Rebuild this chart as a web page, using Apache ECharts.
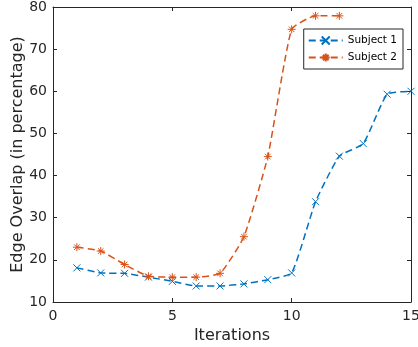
<!DOCTYPE html>
<html>
<head>
<meta charset="utf-8">
<script src="https://cdn.jsdelivr.net/npm/echarts@6/dist/echarts.min.js"></script>
<style>
  html, body { margin: 0; padding: 0; background: #fff; }
  #chart { width: 418px; height: 347px; }
</style>
</head>
<body>
<div id="chart"></div>
<script>
const iterations1 = [1, 2, 3, 4, 5, 6, 7, 8, 9, 10, 11, 12, 13, 14, 15]
const subject1 = [18.1, 16.9, 16.8, 15.9, 14.9, 13.8, 13.8, 14.3, 15.3, 16.9, 33.8, 44.6, 47.6, 59.3, 60]
const iterations2 = [1, 2, 3, 4, 5, 6, 7, 8, 9, 10, 11, 12]
const subject2 = [23, 22.1, 18.9, 16.1, 15.9, 15.9, 16.8, 25.5, 44.5, 74.7, 77.9, 77.9]
const xTicks = [0, 5, 10, 15]
const yTicks = [10, 20, 30, 40, 50, 60, 70, 80]

const BLUE = '#0072BD'
const ORANGE = '#D95319'
const AXIS = '#262626'
const FONT = 'DejaVu Sans'

// MATLAB-style 'x' and '*' markers
const crossSymbol = 'path://M0,0L10,10M10,0L0,10'
const starSymbol = 'path://M5,0L5,10M0,5L10,5M1.5,1.5L8.5,8.5M8.5,1.5L1.5,8.5'

const chart = echarts.init(document.getElementById('chart'))

const baseX = {
  type: 'value',
  min: xTicks[0],
  max: xTicks[xTicks.length - 1],
  interval: 5,
  axisLine: { show: true, onZero: false, lineStyle: { color: AXIS, width: 1 } },
  axisTick: { show: true, inside: true, length: 4, lineStyle: { color: AXIS } },
  splitLine: { show: false }
}
const baseY = {
  type: 'value',
  min: yTicks[0],
  max: yTicks[yTicks.length - 1],
  interval: 10,
  axisLine: { show: true, onZero: false, lineStyle: { color: AXIS, width: 1 } },
  axisTick: { show: true, inside: true, length: 4, lineStyle: { color: AXIS } },
  splitLine: { show: false }
}

chart.setOption({
  animation: false,
  grid: { left: 53, right: 7, top: 7, bottom: 45, outerBoundsMode: 'none', containLabel: false },
  legend: {
    right: 15,
    top: 29,
    orient: 'vertical',
    itemWidth: 34,
    itemHeight: 10,
    itemGap: 6,
    padding: [6, 6, 6, 4],
    borderColor: AXIS,
    borderWidth: 1,
    backgroundColor: '#fff',
    textStyle: { fontFamily: FONT, fontSize: 10.5, color: '#000' },
    data: ['Subject 1', 'Subject 2']
  },
  xAxis: [
    Object.assign({}, baseX, {
      position: 'bottom',
      name: 'Iterations',
      nameLocation: 'middle',
      nameGap: 26,
      nameMoveOverlap: false,
      nameTextStyle: { fontFamily: FONT, fontSize: 16, color: AXIS },
      axisLabel: { fontFamily: FONT, fontSize: 14, color: AXIS, margin: 7 }
    }),
    Object.assign({}, baseX, { position: 'top', axisLabel: { show: false } })
  ],
  yAxis: [
    Object.assign({}, baseY, {
      position: 'left',
      name: 'Edge Overlap (in percentage)',
      nameLocation: 'middle',
      nameGap: 27,
      nameMoveOverlap: false,
      nameTextStyle: { fontFamily: FONT, fontSize: 16, color: AXIS },
      axisLabel: { fontFamily: FONT, fontSize: 14, color: AXIS, margin: 6 }
    }),
    Object.assign({}, baseY, { position: 'right', axisLabel: { show: false } })
  ],
  series: [
    {
      name: 'Subject 1',
      type: 'line',
      smooth: 0.15,
      data: iterations1.map((x, i) => [x, subject1[i]]),
      symbol: crossSymbol,
      symbolSize: 7,
      lineStyle: { color: BLUE, width: 1.5, type: [7, 4] },
      itemStyle: { color: BLUE, borderColor: BLUE, borderWidth: 1 }
    },
    {
      name: 'Subject 2',
      type: 'line',
      smooth: 0.15,
      data: iterations2.map((x, i) => [x, subject2[i]]),
      symbol: starSymbol,
      symbolSize: 8,
      lineStyle: { color: ORANGE, width: 1.5, type: [7, 4] },
      itemStyle: { color: ORANGE, borderColor: ORANGE, borderWidth: 1 }
    }
  ]
})
</script>
</body>
</html>
